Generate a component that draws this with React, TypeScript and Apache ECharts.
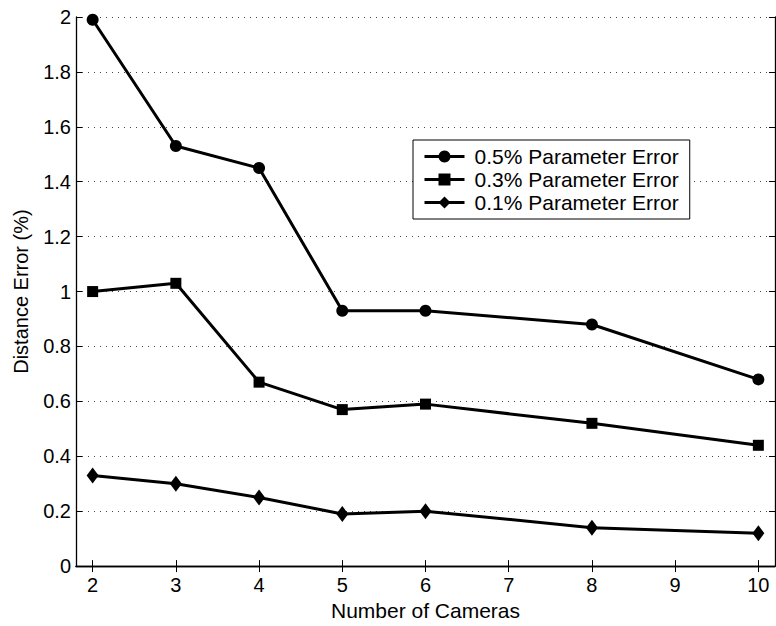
import React, { useEffect, useRef } from "react";
import * as echarts from "echarts";

const cameras = [2, 3, 4, 5, 6, 8, 10];
const err05 = [1.99, 1.53, 1.45, 0.93, 0.93, 0.88, 0.68];
const err03 = [1.0, 1.03, 0.67, 0.57, 0.59, 0.52, 0.44];
const err01 = [0.33, 0.3, 0.25, 0.19, 0.2, 0.14, 0.12];
const xTicks = [2, 3, 4, 5, 6, 7, 8, 9, 10];
const seriesNames = [
  "0.5% Parameter Error",
  "0.3% Parameter Error",
  "0.1% Parameter Error",
];

const FONT = "'Liberation Sans', Arial, Helvetica, sans-serif";

export default function App() {
  const ref = useRef<HTMLDivElement>(null);

  useEffect(() => {
    if (!ref.current) return;
    const chart = echarts.init(ref.current, undefined, { renderer: "svg" });

    const pts = (ys: number[]) => cameras.map((x, i) => [x, ys[i]]);
    const lineSeries = (name: string, ys: number[], symbol: string, size: any) => ({
      name,
      type: "line",
      data: pts(ys),
      symbol,
      symbolSize: size,
      showAllSymbol: true,
      lineStyle: { color: "#000", width: 3 },
      itemStyle: { color: "#000" },
      emphasis: { disabled: true },
    });

    const axisLine = { show: true, lineStyle: { color: "#000", width: 1.3 } };

    chart.setOption({
      animation: false,
      textStyle: { fontFamily: FONT },
      grid: { left: 76, top: 17, right: 1, bottom: 57, containLabel: false },
      legend: {
        orient: "vertical",
        left: 413,
        top: 140,
        padding: [5, 11, 5, 10],
        borderColor: "#000",
        borderWidth: 1,
        backgroundColor: "#fff",
        itemWidth: 40,
        itemHeight: 15,
        itemGap: 0,
        lineStyle: { width: 3, color: "#000" },
        textStyle: {
          fontFamily: FONT,
          fontSize: 21,
          color: "#000",
          lineHeight: 23,
          padding: [0, 0, 0, 5],
        },
        data: seriesNames,
      },
      xAxis: [
        {
          type: "value",
          min: 1.8,
          max: 10.2,
          position: "bottom",
          name: "Number of Cameras",
          nameLocation: "middle",
          nameGap: 29,
          nameTextStyle: { fontFamily: FONT, fontSize: 21, color: "#000" },
          axisLine,
          axisTick: {
            show: true,
            inside: true,
            length: 6,
            customValues: xTicks,
            lineStyle: { color: "#000" },
          },
          axisLabel: {
            customValues: xTicks,
            fontFamily: FONT,
            fontSize: 20,
            color: "#000",
            margin: 9,
          },
          splitLine: { show: false },
        },
        {
          type: "value",
          min: 1.8,
          max: 10.2,
          position: "top",
          axisLine,
          axisTick: {
            show: true,
            inside: true,
            length: 6,
            customValues: xTicks,
            lineStyle: { color: "#000" },
          },
          axisLabel: { show: false },
          splitLine: { show: false },
        },
      ],
      yAxis: [
        {
          type: "value",
          min: 0,
          max: 2,
          interval: 0.2,
          position: "left",
          name: "Distance Error (%)",
          nameLocation: "middle",
          nameGap: 45,
          nameTextStyle: { fontFamily: FONT, fontSize: 20, color: "#000" },
          axisLine,
          axisTick: { show: true, inside: true, length: 6, lineStyle: { color: "#000" } },
          axisLabel: { fontFamily: FONT, fontSize: 20, color: "#000", margin: 5 },
          splitLine: {
            show: true,
            lineStyle: { color: "#444", width: 1, type: [1, 5] },
          },
        },
        {
          type: "value",
          min: 0,
          max: 2,
          interval: 0.2,
          position: "right",
          axisLine,
          axisTick: { show: true, inside: true, length: 6, lineStyle: { color: "#000" } },
          axisLabel: { show: false },
          splitLine: { show: false },
        },
      ],
      series: [
        lineSeries(seriesNames[0], err05, "circle", 12),
        lineSeries(seriesNames[1], err03, "rect", 11),
        lineSeries(seriesNames[2], err01, "diamond", [12, 16]),
      ],
    });

    return () => chart.dispose();
  }, []);

  return (
    <div
      ref={ref}
      style={{ position: "absolute", left: 0, top: 0, width: 776, height: 626, background: "#fff" }}
    />
  );
}
